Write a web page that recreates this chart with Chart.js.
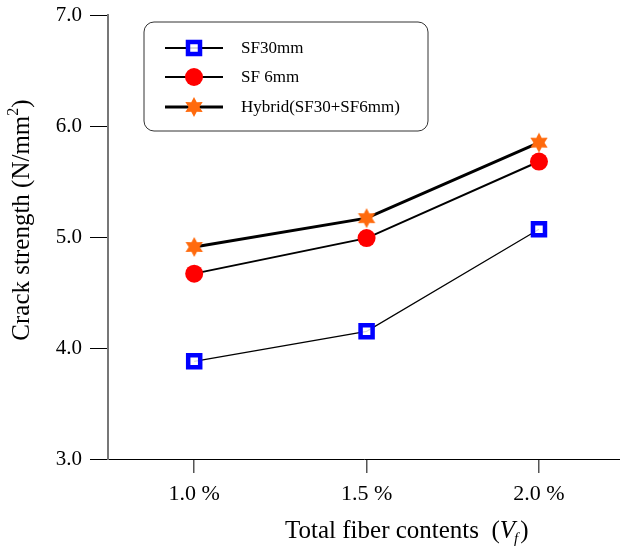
<!DOCTYPE html>
<html>
<head>
<meta charset="utf-8">
<script src="https://cdn.jsdelivr.net/npm/chart.js@4"></script>
<style>
  html, body { margin: 0; padding: 0; background: #fff; overflow: hidden; }
  #wrap { width: 620px; height: 550px; position: relative; }
  canvas { display: block; }
</style>
</head>
<body>
<div id="wrap"><canvas id="grafico"></canvas></div>
<script>
// categorias (Vf) e valores
const fibras = [1.0, 1.5, 2.0];
const rotulosX = ['1.0 %', '1.5 %', '2.0 %'];
const ticksY = [3.0, 4.0, 5.0, 6.0, 7.0];
const sf30 = [3.88, 4.15, 5.07];
const sf6 = [4.67, 4.99, 5.68];
const hibrido = [4.91, 5.17, 5.85];
const nomes = ['SF30mm', 'SF 6mm', 'Hybrid(SF30+SF6mm)'];

const fonte = "'Liberation Serif', 'Times New Roman', serif";

// estrela de 6 pontas
function criaEstrela(cor, r) {
    const c = document.createElement('canvas');
    c.width = c.height = r * 2 + 2;
    const g = c.getContext('2d');
    const cx = r + 1, cy = r + 1;
    g.beginPath();
    for (let i = 0; i < 12; i++) {
        const ang = -Math.PI / 2 + i * Math.PI / 6;
        const rr = i % 2 === 0 ? r : r * 0.55;
        const px = cx + rr * Math.cos(ang), py = cy + rr * Math.sin(ang);
        if (i === 0) g.moveTo(px, py); else g.lineTo(px, py);
    }
    g.closePath();
    g.fillStyle = cor;
    g.fill();
    return c;
}
const estrela = criaEstrela('#ff6a0d', 10);

function pontos(vals) {
    return vals.map((v, i) => ({ x: fibras[i], y: v }));
}

const legendaCaixa = {
    id: 'legendaCaixa',
    afterDraw(chart) {
        const ctx = chart.ctx;
        ctx.save();
        // caixa arredondada
        const x = 144, y = 22, w = 284, h = 109, r = 10;
        ctx.beginPath();
        ctx.moveTo(x + r, y);
        ctx.arcTo(x + w, y, x + w, y + h, r);
        ctx.arcTo(x + w, y + h, x, y + h, r);
        ctx.arcTo(x, y + h, x, y, r);
        ctx.arcTo(x, y, x + w, y, r);
        ctx.closePath();
        ctx.fillStyle = '#fff';
        ctx.fill();
        ctx.strokeStyle = '#333';
        ctx.lineWidth = 1;
        ctx.stroke();

        const linhasY = [48, 77, 107];
        chart.data.datasets.forEach((ds, i) => {
            const ly = linhasY[i];
            ctx.beginPath();
            ctx.moveTo(165, ly);
            ctx.lineTo(223, ly);
            ctx.strokeStyle = '#000';
            ctx.lineWidth = Math.max(ds.borderWidth, 2);
            ctx.stroke();
            ctx.fillStyle = ds.pointBackgroundColor;
            ctx.strokeStyle = ds.pointBorderColor;
            ctx.lineWidth = ds.pointBorderWidth;
            if (ds.pointStyle === 'rect') {
                const s = ds.pointRadius * Math.SQRT1_2;
                ctx.fillRect(194 - s, ly - s, 2 * s, 2 * s);
                ctx.strokeRect(194 - s, ly - s, 2 * s, 2 * s);
            } else {
                Chart.helpers.drawPoint(ctx, {
                    pointStyle: ds.pointStyle,
                    radius: ds.pointRadius,
                    borderWidth: ds.pointBorderWidth
                }, 194, ly);
            }
            ctx.fillStyle = '#000';
            ctx.font = '17px ' + fonte;
            ctx.textBaseline = 'middle';
            ctx.textAlign = 'left';
            ctx.fillText(nomes[i], 241, ly + 1);
        });
        ctx.restore();
    }
};

const titulos = {
    id: 'titulos',
    afterDraw(chart) {
        const ctx = chart.ctx;
        ctx.save();
        ctx.fillStyle = '#000';
        // titulo y
        const fy = 25, fs = 16;
        ctx.translate(22, 220);
        ctx.rotate(-Math.PI / 2);
        ctx.textBaseline = 'middle';
        ctx.textAlign = 'left';
        ctx.font = fy + 'px ' + fonte;
        const base = 'Crack strength (N/mm';
        const wBase = ctx.measureText(base).width;
        const wFim = ctx.measureText(')').width;
        ctx.font = fs + 'px ' + fonte;
        const wSup = ctx.measureText('2').width;
        let sx = -(wBase + wSup + wFim) / 2;
        ctx.font = fy + 'px ' + fonte;
        ctx.fillText(base, sx, 0);
        sx += wBase;
        ctx.font = fs + 'px ' + fonte;
        ctx.fillText('2', sx, -8);
        sx += wSup;
        ctx.font = fy + 'px ' + fonte;
        ctx.fillText(')', sx, 0);
        ctx.restore();

        // titulo x
        ctx.save();
        ctx.fillStyle = '#000';
        ctx.textBaseline = 'alphabetic';
        ctx.textAlign = 'left';
        let px = 285;
        const py = 538;
        ctx.font = '25px ' + fonte;
        const t1 = 'Total fiber contents  (';
        ctx.fillText(t1, px, py);
        px += ctx.measureText(t1).width;
        ctx.font = 'italic 25px ' + fonte;
        ctx.fillText('V', px, py);
        px += ctx.measureText('V').width - 1;
        ctx.font = 'italic 15px ' + fonte;
        ctx.fillText('f', px, py + 5);
        px += ctx.measureText('f').width + 2;
        ctx.font = '25px ' + fonte;
        ctx.fillText(')', px, py);
        ctx.restore();
    }
};

new Chart(document.getElementById('grafico'), {
    type: 'line',
    data: {
        datasets: [{
                label: nomes[0],
                data: pontos(sf30),
                borderColor: '#000',
                borderWidth: 1.2,
                pointStyle: 'rect',
                pointRadius: 8.5,
                pointBorderWidth: 4.5,
                pointBorderColor: '#0000ff',
                pointBackgroundColor: 'rgba(255,255,255,0.85)'
            },
            {
                label: nomes[1],
                data: pontos(sf6),
                borderColor: '#000',
                borderWidth: 2,
                pointStyle: 'circle',
                pointRadius: 9,
                pointBorderWidth: 0,
                pointBorderColor: '#ff0000',
                pointBackgroundColor: '#ff0000'
            },
            {
                label: nomes[2],
                data: pontos(hibrido),
                borderColor: '#000',
                borderWidth: 3,
                pointStyle: estrela,
                pointRadius: 10,
                pointBorderWidth: 0,
                pointBorderColor: '#ff6a0d',
                pointBackgroundColor: '#ff6a0d'
            }
        ]
    },
    options: {
        responsive: true,
        maintainAspectRatio: false,
        animation: false,
        layout: {
            autoPadding: false,
            padding: { top: 15, left: 0, right: 0, bottom: 0 }
        },
        plugins: {
            legend: { display: false },
            tooltip: { enabled: false }
        },
        scales: {
            x: {
                type: 'linear',
                min: 0.75,
                max: 2.235,
                afterBuildTicks: function (scale) {
                    scale.ticks = fibras.map(v => ({ value: v }));
                },
                afterFit: function (scale) {
                    scale.height = 91;
                    scale.paddingLeft = 0;
                    scale.paddingRight = 0;
                },
                grid: {
                    display: true,
                    drawOnChartArea: false,
                    drawTicks: true,
                    tickLength: 14,
                    color: '#555',
                    lineWidth: 1.5
                },
                border: { color: '#000', width: 1 },
                ticks: {
                    color: '#000',
                    padding: 8,
                    maxRotation: 0,
                    callback: function (value) {
                        const i = fibras.indexOf(value);
                        return i >= 0 ? rotulosX[i] : '';
                    },
                    font: { size: 22, family: fonte }
                }
            },
            y: {
                min: 3,
                max: 7,
                afterBuildTicks: function (scale) {
                    scale.ticks = ticksY.map(v => ({ value: v }));
                },
                afterFit: function (scale) {
                    scale.width = 108;
                    scale.paddingTop = 0;
                    scale.paddingBottom = 0;
                },
                grid: {
                    display: true,
                    drawOnChartArea: false,
                    drawTicks: true,
                    tickLength: 18,
                    color: '#000',
                    lineWidth: 1
                },
                border: { color: '#777', width: 2 },
                ticks: {
                    color: '#000',
                    padding: 8,
                    callback: function (value) {
                        return value.toFixed(1);
                    },
                    font: { size: 21, family: fonte }
                }
            }
        }
    },
    plugins: [legendaCaixa, titulos]
});
</script>
</body>
</html>
